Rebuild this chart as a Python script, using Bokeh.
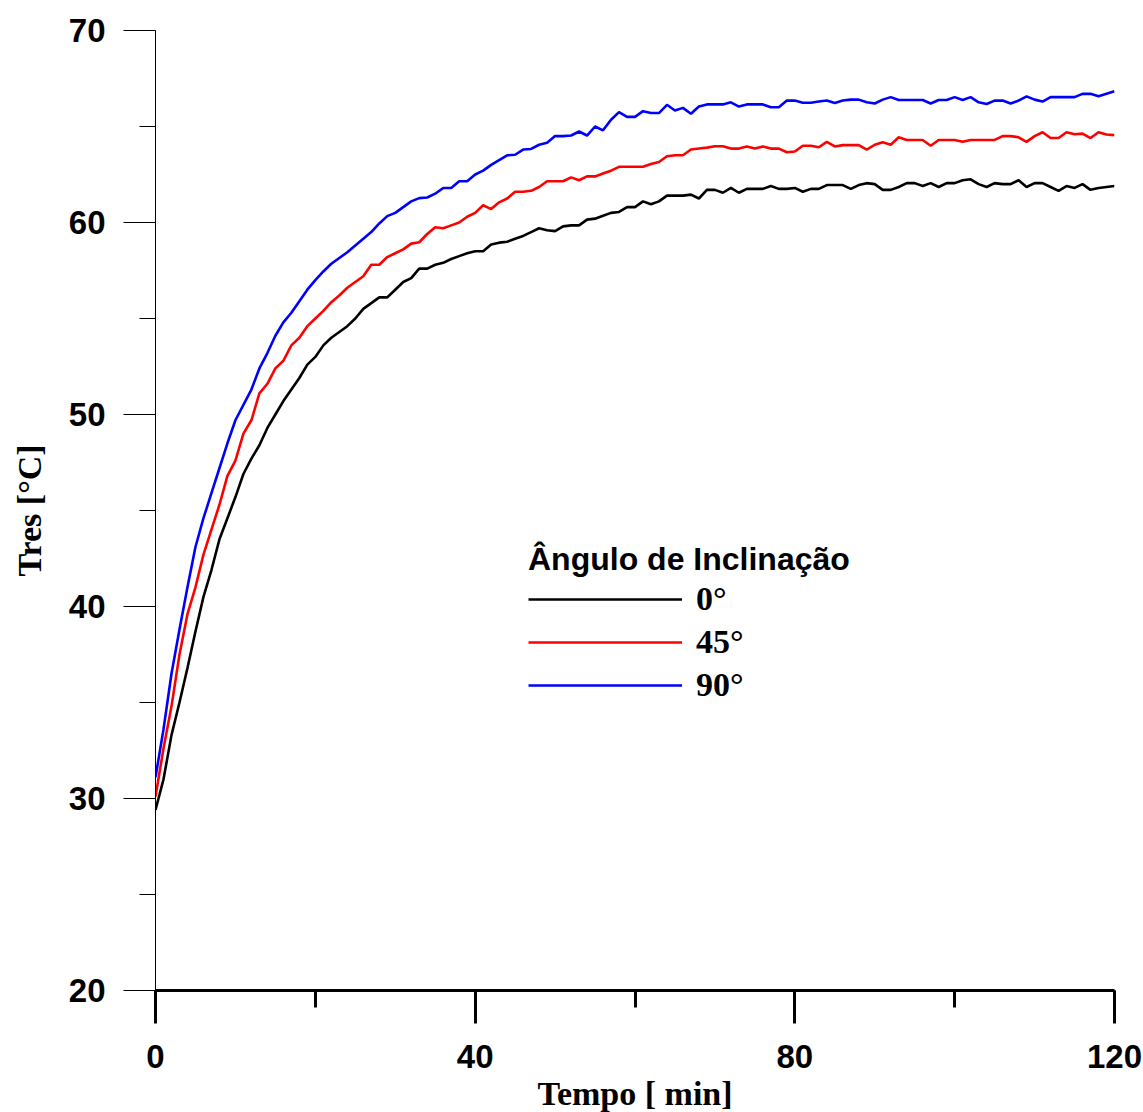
from bokeh.plotting import figure
from bokeh.models import SingleIntervalTicker, Legend, LegendItem, Range1d
from bokeh.embed import file_html
from bokeh.resources import INLINE

# ---- data ----
tempo = list(range(0, 121))

t_0 = [29.4, 31.0, 33.3, 35.0, 36.8, 38.7, 40.5, 41.9, 43.5, 44.6,
       45.7, 46.9, 47.7, 48.4, 49.3, 50.0, 50.7, 51.3, 51.9, 52.6,
       53.0, 53.6, 54.0, 54.3, 54.6, 55.0, 55.5, 55.8, 56.1, 56.1,
       56.5, 56.9, 57.1, 57.6, 57.6, 57.8, 57.9, 58.1, 58.25, 58.4,
       58.5, 58.5, 58.85, 58.95, 59.0, 59.15, 59.3, 59.5, 59.7, 59.6,
       59.55, 59.8, 59.85, 59.85, 60.15, 60.2, 60.35, 60.5, 60.55, 60.8,
       60.8, 61.1, 60.95, 61.1, 61.4, 61.4, 61.4, 61.45, 61.25, 61.7,
       61.7, 61.55, 61.8, 61.55, 61.75, 61.75, 61.75, 61.9, 61.75, 61.75,
       61.8, 61.6, 61.75, 61.75, 61.95, 61.95, 61.95, 61.75, 61.95, 62.05,
       62.0, 61.7, 61.7, 61.85, 62.05, 62.05, 61.9, 62.05, 61.85, 62.05,
       62.05, 62.2, 62.25, 62.0, 61.85, 62.05, 62.0, 62.0, 62.2, 61.85,
       62.05, 62.05, 61.85, 61.65, 61.9, 61.8, 62.0, 61.7, 61.8, 61.85,
       61.9]

t_45 = [30.1, 32.6, 34.8, 37.5, 39.6, 41.0, 42.7, 44.0, 45.3, 46.8,
        47.6, 49.0, 49.7, 51.1, 51.6, 52.4, 52.8, 53.6, 54.0, 54.6,
        55.0, 55.4, 55.85, 56.2, 56.6, 56.9, 57.2, 57.8, 57.8, 58.2,
        58.4, 58.6, 58.9, 58.97, 59.4, 59.75, 59.7, 59.85, 60.0, 60.3,
        60.5, 60.9, 60.7, 61.05, 61.25, 61.6, 61.6, 61.65, 61.85, 62.15,
        62.15, 62.15, 62.35, 62.2, 62.4, 62.4, 62.55, 62.7, 62.9, 62.9,
        62.9, 62.9, 63.05, 63.15, 63.45, 63.5, 63.5, 63.8, 63.85, 63.9,
        63.97, 63.97, 63.85, 63.85, 63.96, 63.85, 63.96, 63.85, 63.85, 63.66,
        63.7, 64.0, 64.0, 63.92, 64.2, 63.96, 64.03, 64.03, 64.03, 63.8,
        64.05, 64.18, 64.05, 64.44, 64.3, 64.3, 64.3, 64.0, 64.3, 64.3,
        64.3, 64.2, 64.3, 64.3, 64.3, 64.3, 64.5, 64.5, 64.44, 64.2,
        64.5, 64.7, 64.4, 64.4, 64.7, 64.6, 64.63, 64.4, 64.7, 64.58,
        64.55]

t_90 = [31.1, 33.6, 36.5, 38.8, 41.0, 43.1, 44.6, 45.9, 47.2, 48.5,
        49.7, 50.5, 51.3, 52.4, 53.2, 54.1, 54.8, 55.3, 55.9, 56.5,
        57.0, 57.45, 57.85, 58.15, 58.45, 58.8, 59.15, 59.5, 59.95, 60.33,
        60.5, 60.8, 61.1, 61.27, 61.3, 61.5, 61.8, 61.8, 62.15, 62.15,
        62.5, 62.7, 63.0, 63.25, 63.5, 63.53, 63.8, 63.83, 64.05, 64.15,
        64.5, 64.5, 64.53, 64.74, 64.53, 65.0, 64.8, 65.35, 65.75, 65.5,
        65.5, 65.8, 65.7, 65.7, 66.13, 65.83, 65.97, 65.66, 66.04, 66.15,
        66.15, 66.15, 66.26, 66.04, 66.15, 66.15, 66.15, 66.0, 66.0, 66.35,
        66.35, 66.24, 66.24, 66.3, 66.35, 66.22, 66.35, 66.4, 66.4, 66.26,
        66.2, 66.4, 66.53, 66.38, 66.38, 66.38, 66.38, 66.2, 66.38, 66.38,
        66.53, 66.38, 66.53, 66.26, 66.17, 66.35, 66.35, 66.2, 66.35, 66.57,
        66.4, 66.3, 66.53, 66.53, 66.53, 66.53, 66.7, 66.7, 66.57, 66.7,
        66.83]

series_labels = ["0°", "45°", "90°"]
series_colors = ["#000000", "#ff0000", "#0000ff"]
legend_title = "Ângulo de Inclinação"
x_label = "Tempo [ min]"
y_label = "Tres [°C]"

# ---- figure ----
p = figure(frame_width=959, frame_height=960,
           x_range=Range1d(0, 120), y_range=Range1d(20, 70),
           output_backend="svg", toolbar_location=None,
           min_border_left=155, min_border_top=30,
           min_border_right=28, min_border_bottom=120)
p.outline_line_color = None
p.grid.visible = False
p.background_fill_color = "white"
p.border_fill_color = "white"

renderers = []
for ys, c in zip([t_0, t_45, t_90], series_colors):
    r = p.line(tempo, ys, line_color=c, line_width=2.6)
    renderers.append(r)

xa = p.xaxis[0]
xa.ticker = SingleIntervalTicker(interval=40, num_minor_ticks=2)
xa.axis_line_width = 3
xa.axis_line_color = "black"
xa.major_tick_line_width = 3
xa.minor_tick_line_width = 3
xa.major_tick_line_color = "black"
xa.minor_tick_line_color = "black"
xa.major_tick_in = 0
xa.minor_tick_in = 0
xa.major_tick_out = 33
xa.minor_tick_out = 17
xa.major_label_standoff = 21
xa.major_label_text_font = "Liberation Sans"
xa.major_label_text_font_style = "bold"
xa.major_label_text_font_size = "33px"
xa.major_label_text_color = "black"
xa.axis_label = x_label
xa.axis_label_text_font = "Liberation Serif"
xa.axis_label_text_font_style = "bold"
xa.axis_label_text_font_size = "34px"
xa.axis_label_text_color = "black"
xa.axis_label_standoff = 4

ya = p.yaxis[0]
ya.ticker = SingleIntervalTicker(interval=10, num_minor_ticks=2)
ya.axis_line_width = 1
ya.axis_line_color = "black"
ya.major_tick_line_width = 1
ya.minor_tick_line_width = 1
ya.major_tick_line_color = "black"
ya.minor_tick_line_color = "black"
ya.major_tick_in = 0
ya.minor_tick_in = 0
ya.major_tick_out = 32
ya.minor_tick_out = 16
ya.major_label_standoff = 18
ya.major_label_text_font = "Liberation Sans"
ya.major_label_text_font_style = "bold"
ya.major_label_text_font_size = "33px"
ya.major_label_text_color = "black"
ya.axis_label = y_label
ya.axis_label_text_font = "Liberation Serif"
ya.axis_label_text_font_style = "bold"
ya.axis_label_text_font_size = "34px"
ya.axis_label_text_color = "black"
ya.axis_label_standoff = 18

legend = Legend(
    items=[LegendItem(label=l, renderers=[r]) for l, r in zip(series_labels, renderers)],
    location=(373, 286),
    title=legend_title,
    title_text_font="Liberation Sans",
    title_text_font_style="bold",
    title_text_font_size="32px",
    title_text_color="black",
    title_standoff=2,
    label_text_font="Liberation Serif",
    label_text_font_style="bold",
    label_text_font_size="34px",
    label_text_color="black",
    label_standoff=14,
    glyph_width=154,
    glyph_height=30,
    spacing=5,
    padding=0,
    margin=0,
    border_line_color=None,
    background_fill_alpha=0,
)
p.add_layout(legend, "center")

open("out.html", "w").write(file_html(p, INLINE))
